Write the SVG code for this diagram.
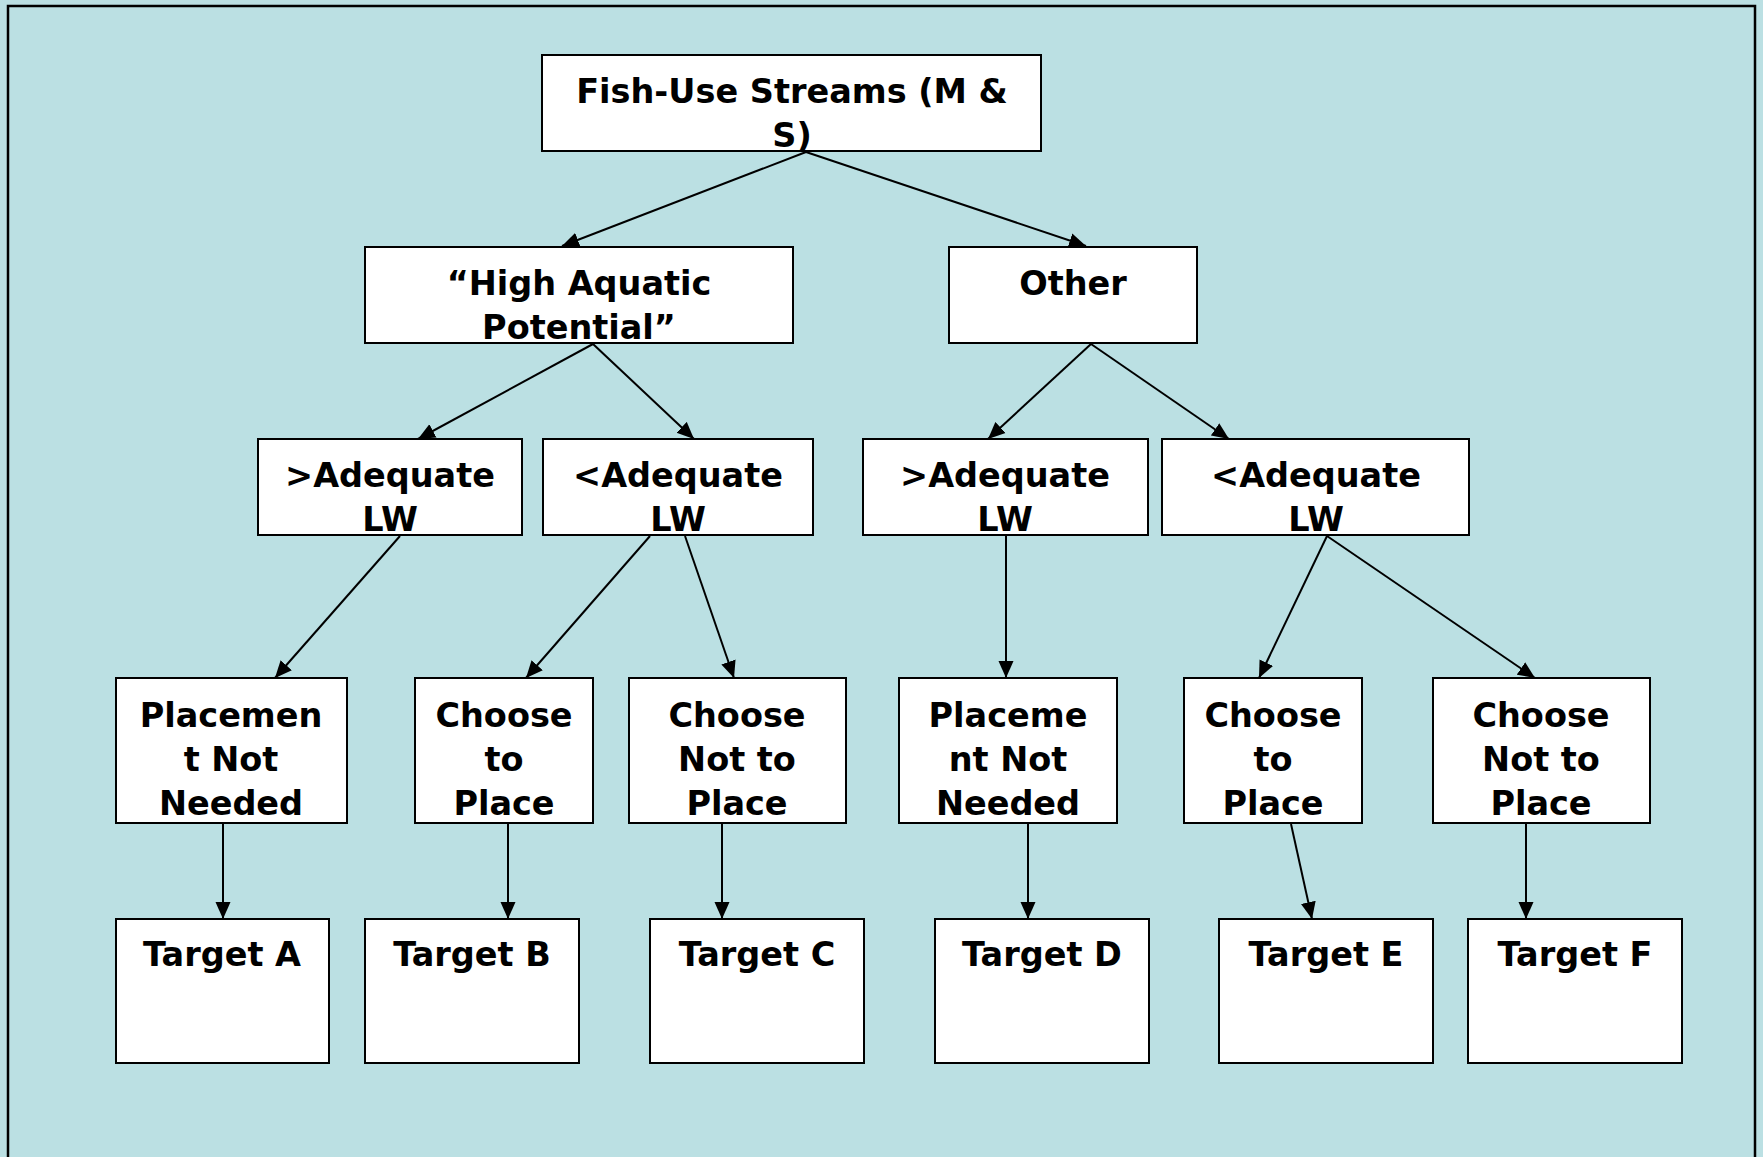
<svg xmlns="http://www.w3.org/2000/svg" width="1763" height="1157" viewBox="0 0 1763 1157">
  <defs>
    <marker id="arrow" markerUnits="userSpaceOnUse" markerWidth="18" markerHeight="16" refX="17" refY="8" orient="auto">
      <path d="M0,0.5 L17,8 L0,15.5 Z" fill="#000"/>
    </marker>
  </defs>
  <style>
    .box { fill: #ffffff; stroke: #000000; stroke-width: 2; }
    .lbl { font-family: "DejaVu Sans", "Liberation Sans", sans-serif; font-weight: bold; font-size: 33.5px; fill: #000; text-anchor: middle; }
    .conn line { stroke: #000; stroke-width: 2; marker-end: url(#arrow); }
  </style>
  <rect x="0" y="0" width="1763" height="1157" fill="#BBE0E3"/>
  <rect x="8" y="6" width="1747" height="1200" fill="none" stroke="#000" stroke-width="2.5"/>

  <g id="connectors" class="conn">
    <line x1="806" y1="152" x2="562" y2="246"/>
    <line x1="806" y1="152" x2="1086" y2="246"/>
    <line x1="593" y1="344" x2="418" y2="439"/>
    <line x1="593" y1="344" x2="694" y2="439"/>
    <line x1="1091" y1="344" x2="988" y2="439"/>
    <line x1="1091" y1="344" x2="1229" y2="439"/>
    <line x1="400" y1="536" x2="275" y2="678"/>
    <line x1="650" y1="536" x2="526" y2="678"/>
    <line x1="685" y1="536" x2="734" y2="678"/>
    <line x1="1006" y1="536" x2="1006" y2="678"/>
    <line x1="1327" y1="536" x2="1259" y2="678"/>
    <line x1="1327" y1="536" x2="1535" y2="678"/>
    <line x1="223" y1="824" x2="223" y2="919"/>
    <line x1="508" y1="824" x2="508" y2="919"/>
    <line x1="722" y1="824" x2="722" y2="919"/>
    <line x1="1028" y1="824" x2="1028" y2="919"/>
    <line x1="1291" y1="824" x2="1312" y2="919"/>
    <line x1="1526" y1="824" x2="1526" y2="919"/>
  </g>

  <g id="n-fish">
    <rect class="box" x="542" y="55" width="499" height="96"/>
    <text class="lbl" x="792" y="103">Fish-Use Streams (M &amp;</text>
    <text class="lbl" x="792" y="147">S)</text>
  </g>
  <g id="n-high">
    <rect class="box" x="365" y="247" width="428" height="96"/>
    <text class="lbl" x="579" y="295">“High Aquatic</text>
    <text class="lbl" x="579" y="339">Potential”</text>
  </g>
  <g id="n-other">
    <rect class="box" x="949" y="247" width="248" height="96"/>
    <text class="lbl" x="1073" y="295">Other</text>
  </g>

  <g id="n-gt1">
    <rect class="box" x="258" y="439" width="264" height="96"/>
    <text class="lbl" x="390" y="487">&gt;Adequate</text>
    <text class="lbl" x="390" y="531">LW</text>
  </g>
  <g id="n-lt1">
    <rect class="box" x="543" y="439" width="270" height="96"/>
    <text class="lbl" x="678" y="487">&lt;Adequate</text>
    <text class="lbl" x="678" y="531">LW</text>
  </g>
  <g id="n-gt2">
    <rect class="box" x="863" y="439" width="285" height="96"/>
    <text class="lbl" x="1005" y="487">&gt;Adequate</text>
    <text class="lbl" x="1005" y="531">LW</text>
  </g>
  <g id="n-lt2">
    <rect class="box" x="1162" y="439" width="307" height="96"/>
    <text class="lbl" x="1316" y="487">&lt;Adequate</text>
    <text class="lbl" x="1316" y="531">LW</text>
  </g>

  <g id="n-placeA">
    <rect class="box" x="116" y="678" width="231" height="145"/>
    <text class="lbl" x="231" y="727">Placemen</text>
    <text class="lbl" x="231" y="771">t Not</text>
    <text class="lbl" x="231" y="815">Needed</text>
  </g>
  <g id="n-chooseB">
    <rect class="box" x="415" y="678" width="178" height="145"/>
    <text class="lbl" x="504" y="727">Choose</text>
    <text class="lbl" x="504" y="771">to</text>
    <text class="lbl" x="504" y="815">Place</text>
  </g>
  <g id="n-chooseC">
    <rect class="box" x="629" y="678" width="217" height="145"/>
    <text class="lbl" x="737" y="727">Choose</text>
    <text class="lbl" x="737" y="771">Not to</text>
    <text class="lbl" x="737" y="815">Place</text>
  </g>
  <g id="n-placeD">
    <rect class="box" x="899" y="678" width="218" height="145"/>
    <text class="lbl" x="1008" y="727">Placeme</text>
    <text class="lbl" x="1008" y="771">nt Not</text>
    <text class="lbl" x="1008" y="815">Needed</text>
  </g>
  <g id="n-chooseE">
    <rect class="box" x="1184" y="678" width="178" height="145"/>
    <text class="lbl" x="1273" y="727">Choose</text>
    <text class="lbl" x="1273" y="771">to</text>
    <text class="lbl" x="1273" y="815">Place</text>
  </g>
  <g id="n-chooseF">
    <rect class="box" x="1433" y="678" width="217" height="145"/>
    <text class="lbl" x="1541" y="727">Choose</text>
    <text class="lbl" x="1541" y="771">Not to</text>
    <text class="lbl" x="1541" y="815">Place</text>
  </g>

  <g id="n-targetA">
    <rect class="box" x="116" y="919" width="213" height="144"/>
    <text class="lbl" x="222" y="966">Target A</text>
  </g>
  <g id="n-targetB">
    <rect class="box" x="365" y="919" width="214" height="144"/>
    <text class="lbl" x="472" y="966">Target B</text>
  </g>
  <g id="n-targetC">
    <rect class="box" x="650" y="919" width="214" height="144"/>
    <text class="lbl" x="757" y="966">Target C</text>
  </g>
  <g id="n-targetD">
    <rect class="box" x="935" y="919" width="214" height="144"/>
    <text class="lbl" x="1042" y="966">Target D</text>
  </g>
  <g id="n-targetE">
    <rect class="box" x="1219" y="919" width="214" height="144"/>
    <text class="lbl" x="1326" y="966">Target E</text>
  </g>
  <g id="n-targetF">
    <rect class="box" x="1468" y="919" width="214" height="144"/>
    <text class="lbl" x="1575" y="966">Target F</text>
  </g>
</svg>
